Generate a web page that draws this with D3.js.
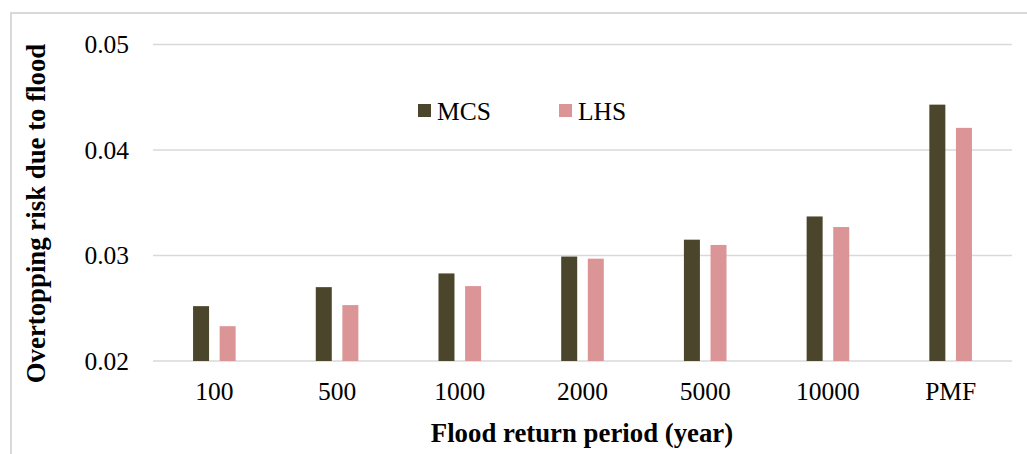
<!DOCTYPE html>
<html>
<head>
<meta charset="utf-8">
<script src="https://cdn.jsdelivr.net/npm/d3@7"></script>
<style>
  body { margin: 0; background: #fff; }
  svg text { font-family: "Liberation Serif", "Times New Roman", serif; fill: #000; }
</style>
</head>
<body>
<svg id="chart" width="1027" height="454"></svg>
<script>
  // data
  var categories = ["100", "500", "1000", "2000", "5000", "10000", "PMF"];
  var seriesNames = ["MCS", "LHS"];
  var mcs = [0.0252, 0.0270, 0.0283, 0.0299, 0.0315, 0.0337, 0.0443];
  var lhs = [0.0233, 0.0253, 0.0271, 0.0297, 0.0310, 0.0327, 0.0421];
  var yTicks = [0.02, 0.03, 0.04, 0.05];
  var colors = ["#4b452c", "#dc9596"];

  var chart = d3.select("#chart");
  var margin = {top: 44.5, left: 153, right: 1012, bottom: 361};

  // outer frame
  chart.append("rect").attr("x", 11).attr("y", 13).attr("width", 1040).attr("height", 460)
       .style("fill", "none").style("stroke", "#d9d9d9").style("stroke-width", 2);

  var x = d3.scaleBand().domain(categories).range([margin.left, margin.right]);
  var y = d3.scaleLinear().domain([0.02, 0.05]).range([margin.bottom, margin.top]);

  // gridlines
  chart.selectAll(".grid").data(yTicks).enter().append("line")
       .attr("x1", margin.left).attr("x2", margin.right)
       .attr("y1", function(d) { return y(d); }).attr("y2", function(d) { return y(d); })
       .style("stroke", "#d9d9d9").style("stroke-width", 1.5);

  // y axis labels
  var yAxis = d3.axisLeft(y).tickValues(yTicks).tickFormat(d3.format(".2f")).tickSize(0).tickPadding(24);
  var gy = chart.append("g").attr("transform", "translate(" + margin.left + ",0)").call(yAxis);
  gy.select(".domain").remove();
  gy.selectAll("text").style("font-size", "25.5px").attr("font-family", null);

  // x axis labels
  var xAxis = d3.axisBottom(x).tickSize(0).tickPadding(21);
  var gx = chart.append("g").attr("transform", "translate(0," + margin.bottom + ")").call(xAxis);
  gx.select(".domain").remove();
  gx.selectAll("text").style("font-size", "25.5px").attr("font-family", null);

  // bars
  var barW = 16, gap = 10.6;
  var series = [mcs, lhs];
  series.forEach(function(vals, s) {
    chart.selectAll(".bar" + s).data(vals).enter().append("rect")
         .attr("x", function(d, i) {
           var c = x(categories[i]) + x.bandwidth() / 2;
           return s === 0 ? c - gap / 2 - barW : c + gap / 2;
         })
         .attr("y", function(d) { return y(d); })
         .attr("width", barW)
         .attr("height", function(d) { return y(0.02) - y(d); })
         .style("fill", colors[s]);
  });

  // legend
  var legX = [418, 559];
  seriesNames.forEach(function(n, i) {
    chart.append("rect").attr("x", legX[i]).attr("y", 104).attr("width", 13).attr("height", 13)
         .style("fill", colors[i]);
    chart.append("text").attr("x", legX[i] + 19).attr("y", 119.5).text(n).style("font-size", "25.5px");
  });

  // axis titles
  chart.append("text").attr("x", 582).attr("y", 442).attr("text-anchor", "middle")
       .style("font-size", "26.8px").style("font-weight", "bold").text("Flood return period (year)");
  chart.append("text").attr("transform", "translate(44.5,213.5) rotate(-90)").attr("text-anchor", "middle")
       .style("font-size", "26.8px").style("font-weight", "bold").text("Overtopping risk due to flood");
</script>
</body>
</html>
